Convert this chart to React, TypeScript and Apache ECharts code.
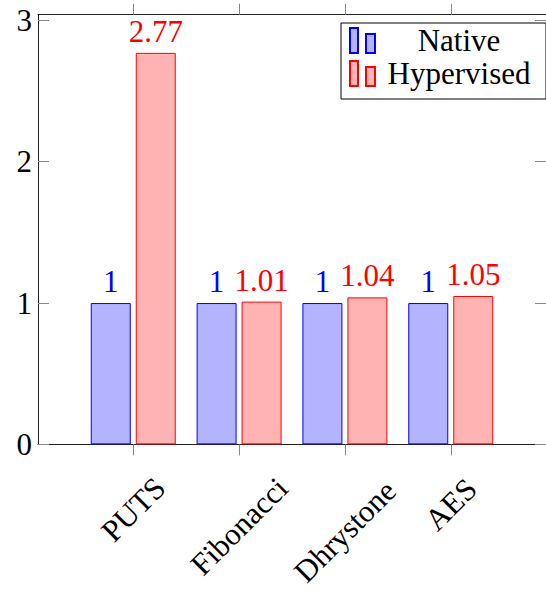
import React, { useEffect, useRef } from 'react';
import * as echarts from 'echarts';

const categories = ['PUTS', 'Fibonacci', 'Dhrystone', 'AES'];
const seriesNames = ['Native', 'Hypervised'];
const nativeValues = [1, 1, 1, 1];
const hypervisedValues = [2.77, 1.01, 1.04, 1.05];
const yTicks = [0, 1, 2, 3];

const FONT = 'serif';
const FS = 31;
// per-label downward shift (rotated label padding, px) so the tops line up
const labelShift = [7, 31, 38, 0];

export default function App() {
  const ref = useRef<HTMLDivElement>(null);

  useEffect(() => {
    const chart = echarts.init(ref.current!, null, { renderer: 'svg' });
    const xPos = categories.map((_, i) => i);
    const rich: any = {};
    categories.forEach((_, i) => {
      rich['c' + i] = {
        fontSize: FS,
        fontFamily: FONT,
        color: '#000',
        padding: [labelShift[i], labelShift[i], 0, 0],
      };
    });
    const axisLine = { show: true, onZero: false, lineStyle: { color: '#222', width: 1 } };
    const tickStyle = { color: '#888', width: 1 };

    chart.setOption({
      animation: false,
      grid: { left: 38, right: -10, top: 14.7, bottom: 144.7, containLabel: false },
      legend: {
        left: 341,
        top: 23,
        orient: 'vertical',
        backgroundColor: '#fff',
        borderColor: '#000',
        borderWidth: 1,
        borderRadius: 0,
        padding: [2, 8, 10, 8],
        itemGap: 2,
        itemWidth: 25,
        itemHeight: 25,
        icon: 'path://M0,0H8V25H0Z M16,6H25V25H16Z',
        formatter: '{t|{name}}',
        textStyle: {
          fontFamily: FONT,
          fontSize: FS,
          color: '#000',
          rich: { t: { width: 158, align: 'center', fontSize: FS, lineHeight: 36, fontFamily: FONT, color: '#000' } },
        },
        data: seriesNames,
      },
      xAxis: [
        {
          type: 'value',
          position: 'bottom',
          min: -0.9,
          max: 3.9,
          splitLine: { show: false },
          axisLine,
          axisTick: { show: true, inside: false, length: 11, lineStyle: tickStyle, customValues: xPos },
          axisLabel: {
            show: true,
            customValues: xPos,
            rotate: 45,
            align: 'center',
            verticalAlign: 'middle',
            margin: 60,
            fontFamily: FONT,
            fontSize: FS,
            color: '#000',
            formatter: (v: number) => {
              const i = Math.round(v);
              return '{c' + i + '|' + categories[i] + '}';
            },
            rich,
          },
        },
        {
          type: 'value',
          position: 'top',
          min: -0.9,
          max: 3.9,
          splitLine: { show: false },
          axisLine,
          axisTick: { show: true, inside: false, length: 11, lineStyle: tickStyle, customValues: xPos },
          axisLabel: { show: false },
        },
      ],
      yAxis: [
        {
          type: 'value',
          position: 'left',
          min: 0,
          max: 3.04,
          splitLine: { show: false },
          axisLine,
          axisTick: { show: true, inside: true, length: 11, lineStyle: tickStyle, customValues: yTicks },
          axisLabel: {
            show: true,
            customValues: yTicks,
            margin: 6,
            fontSize: FS,
            fontFamily: FONT,
            color: '#000',
          },
        },
        {
          type: 'value',
          position: 'right',
          min: 0,
          max: 3.04,
          splitLine: { show: false },
          axisLine,
          axisTick: { show: true, inside: true, length: 11, lineStyle: tickStyle, customValues: yTicks },
          axisLabel: { show: false },
        },
      ],
      series: [
        {
          name: seriesNames[0],
          type: 'bar',
          xAxisIndex: 0,
          yAxisIndex: 0,
          barWidth: 40,
          barGap: '12.5%',
          data: nativeValues.map((v, i) => [xPos[i], v]),
          itemStyle: { color: '#b3b3ff', borderColor: '#0000ff', borderWidth: 1 },
          label: {
            show: true,
            position: 'top',
            distance: 6,
            color: '#0000ff',
            fontSize: FS,
            fontFamily: FONT,
            formatter: (p: any) => String(p.value[1]),
          },
        },
        {
          name: seriesNames[1],
          type: 'bar',
          xAxisIndex: 0,
          yAxisIndex: 0,
          barWidth: 40,
          barGap: '12.5%',
          data: hypervisedValues.map((v, i) => [xPos[i], v]),
          itemStyle: { color: '#ffb3b3', borderColor: '#ff0000', borderWidth: 1 },
          label: {
            show: true,
            position: 'top',
            distance: 6,
            color: '#ff0000',
            fontSize: FS,
            fontFamily: FONT,
            formatter: (p: any) => String(p.value[1]),
          },
        },
      ],
    });

    return () => chart.dispose();
  }, []);

  return <div ref={ref} style={{ position: 'absolute', left: 0, top: 0, width: 546, height: 590 }} />;
}
